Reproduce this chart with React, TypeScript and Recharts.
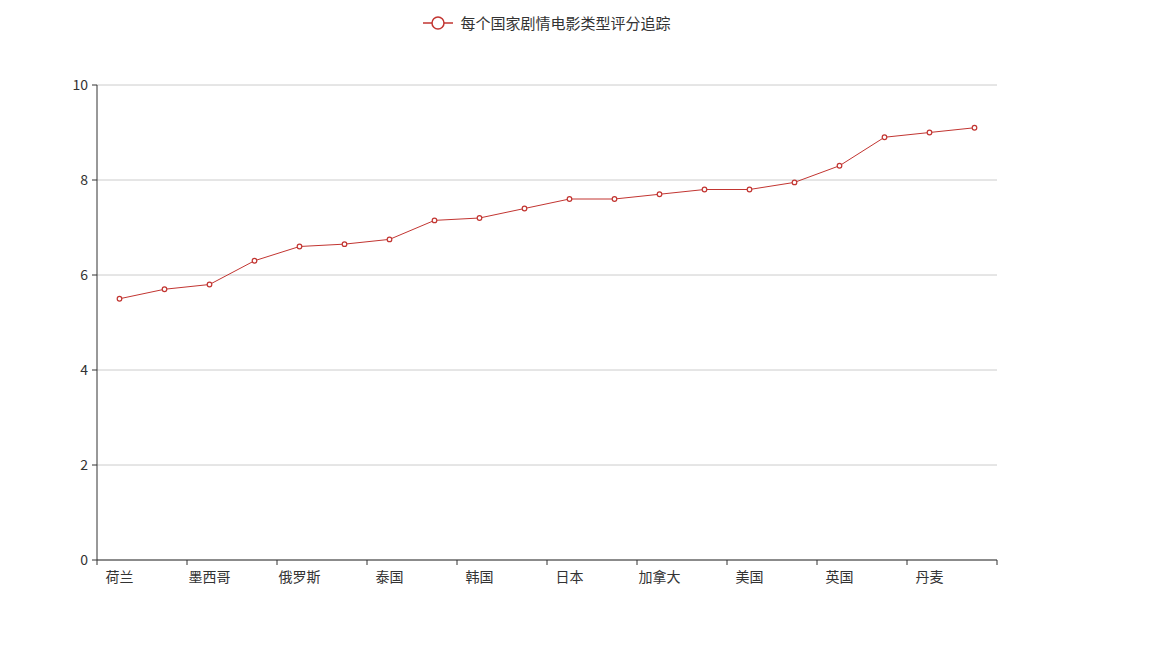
import { CartesianGrid, Legend, Line, LineChart, XAxis, YAxis } from "recharts";

// Countries in rank order; only every other name is drawn on the axis.
const countries = [
  "荷兰", "巴西", "墨西哥", "印度", "俄罗斯", "西班牙", "泰国", "德国", "韩国", "意大利",
  "日本", "中国大陆", "加拿大", "法国", "美国", "中国香港", "英国", "爱尔兰", "丹麦", "新西兰",
];
const scores = [
  5.5, 5.7, 5.8, 6.3, 6.6, 6.65, 6.75, 7.15, 7.2, 7.4,
  7.6, 7.6, 7.7, 7.8, 7.8, 7.95, 8.3, 8.9, 9.0, 9.1,
];
const yTicks = [0, 2, 4, 6, 8, 10];
const seriesName = "每个国家剧情电影类型评分追踪";

const RED = "#c23531";
const TEXT = "#333";
const FONT = "'Noto Sans CJK SC', 'Microsoft YaHei', sans-serif";
const BAND = 45; // plot width / category count

const data = countries.map((c, i) => ({ country: c, score: scores[i] }));

function CategoryTick(props: any) {
  const { x, y, payload } = props;
  const left = x - BAND / 2;
  const top = y - 8; // axis line position
  const isLast = payload.index === countries.length - 2;
  return (
    <g>
      <line x1={left} y1={top} x2={left} y2={top + 5} stroke={TEXT} />
      {isLast && (
        <line x1={left + BAND * 2} y1={top} x2={left + BAND * 2} y2={top + 5} stroke={TEXT} />
      )}
      <text
        x={x}
        y={y + 4}
        dy="0.71em"
        textAnchor="middle"
        fill={TEXT}
        fontSize={14}
        fontFamily={FONT}
      >
        {payload.value}
      </text>
    </g>
  );
}

function LegendContent() {
  return (
    <div style={{ display: "flex", justifyContent: "center", alignItems: "center", height: 16 }}>
      <svg width={30} height={14} style={{ marginRight: 7 }}>
        <line x1={0} y1={7} x2={30} y2={7} stroke={RED} strokeWidth={1.5} />
        <circle cx={15} cy={7} r={6} fill="#fff" stroke={RED} strokeWidth={1.5} />
      </svg>
      <span style={{ fontSize: 15, color: TEXT, fontFamily: FONT, lineHeight: "16px" }}>
        {seriesName}
      </span>
    </div>
  );
}

export default function App() {
  return (
    <div style={{ position: "absolute", left: 0, top: 0, width: 1151, height: 647, background: "#fff" }}>
      <LineChart
        width={1151}
        height={647}
        data={data}
        margin={{ top: 69, right: 154, bottom: 57, left: 57 }}
      >
        <CartesianGrid stroke="#ccc" vertical={false} />
        <XAxis
          dataKey="country"
          scale="band"
          interval={1}
          height={30}
          tick={<CategoryTick />}
          tickLine={false}
          axisLine={{ stroke: TEXT }}
        />
        <YAxis
          width={40}
          domain={[0, 10]}
          ticks={yTicks}
          tickSize={5}
          tickMargin={4}
          tick={{ fill: TEXT, fontSize: 14, fontFamily: FONT }}
          tickLine={{ stroke: TEXT }}
          axisLine={{ stroke: TEXT }}
        />
        <Legend
          verticalAlign="top"
          content={<LegendContent />}
          wrapperStyle={{ top: 15, left: 97, width: 900 }}
        />
        <Line
          type="linear"
          dataKey="score"
          name={seriesName}
          stroke={RED}
          strokeWidth={1}
          dot={{ r: 2.3, fill: "#fff", stroke: RED, strokeWidth: 1.2 }}
          activeDot={false}
          isAnimationActive={false}
        />
      </LineChart>
    </div>
  );
}
